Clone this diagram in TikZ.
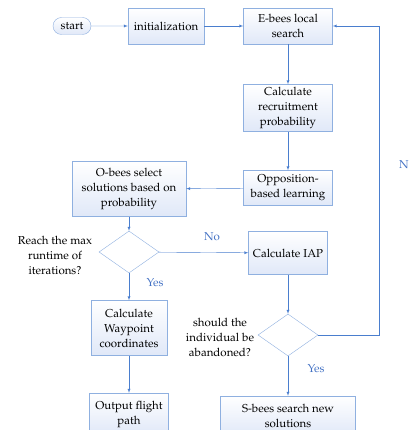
\documentclass[tikz,border=0pt]{standalone}
\usepackage[T1]{fontenc}
\usepackage{mathpazo}
\usepackage{tikz}
\usetikzlibrary{shapes,
           arrows,
           positioning}
\definecolor{boxline}{RGB}{143,176,224}
\definecolor{flowline}{RGB}{74,126,206}
\definecolor{lblblue}{RGB}{68,114,196}
\definecolor{boxfill}{RGB}{224,232,248}
\begin{document}
\begin{tikzpicture}[x=1pt,y=-1pt,
  every node/.style={font=\fontsize{11.5}{15}\selectfont},
  box/.style={draw=boxline,rectangle,top color=white,bottom color=boxfill,align=center,inner sep=2pt},
  terminal/.style={draw=boxline,rounded rectangle,top color=white,bottom color=boxfill,minimum width=40,minimum height=17,inner sep=1pt},
  decision/.style={draw=boxline,diamond,fill=white,minimum width=60,minimum height=42,inner sep=0},
  flow/.style={draw=flowline,-latex},
  answer/.style={text=lblblue}]
\useasboundingbox(0,0)rectangle(411,430);
% top row
\node[terminal](start)at(72,26){start};
\node[box,minimum width=76,minimum height=36](init)at(166,26){initialization};
\node[box,minimum width=89,minimum height=36](ebees)at(288,26){E-bees local\\search};
\node[box,minimum width=89,minimum height=47](recruit)at(288,108){Calculate\\recruitment\\probability};
\node[box,minimum width=89,minimum height=35](opp)at(288,188){Opposition-\\based learning};
\node[box,minimum width=114,minimum height=55](obees)at(129,189){O-bees select\\solutions based on\\probability};
% first decision
\node[decision](maxrun)at(129,252){};
\node[align=center](maxlbl)at(55,255){Reach the max\\runtime of\\iterations?};
\node[box,minimum width=79,minimum height=43](iap)at(288,253){Calculate IAP};
\node[box,minimum width=76,minimum height=55](waypt)at(129,328){Calculate\\Waypoint\\coordinates};
\node[box,minimum width=79,minimum height=42](output)at(129,414){Output flight\\path};
% second decision
\node[decision](abandon)at(288,335){};
\node[align=center](abdlbl)at(220,337){should the\\individual be\\abandoned?};
\node[box,minimum width=135,minimum height=40](sbees)at(288,416){S-bees search new\\solutions};
\coordinate(back)at(379,200);
\draw[flow](start)--(init);
\draw[flow](init)--(ebees);
\draw[flow](ebees)--(recruit);
\draw[flow](recruit)--(opp);
\draw[flow](opp)--(obees);
\draw[flow](obees)--(maxrun);
\draw[flow](maxrun)--(iap);
\draw[flow](maxrun)--(waypt);
\draw[flow](waypt)--(output);
\draw[flow](iap)--(abandon);
\draw[flow](abandon)--(sbees);
\draw[flow](abandon.east)--(abandon.east-|back)--(ebees.east-|back)--(ebees.east);
\node[answer](no1)at(212,237){No};
\node[answer](yes1)at(155,283){Yes};
\node[answer](yes2)at(316,369){Yes};
\node[answer](no2)at(404,165){N};
\end{tikzpicture}
\end{document}
